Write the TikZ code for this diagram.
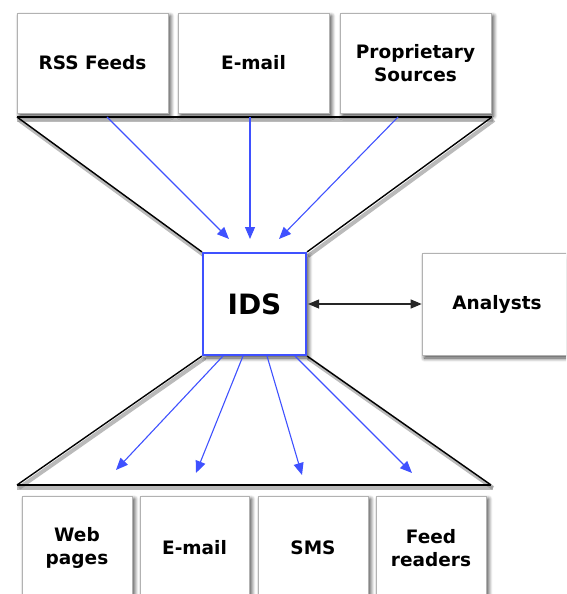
\documentclass[tikz,border=0pt]{standalone}
\usepackage{fontspec}
\setmainfont{DejaVu Sans}
\usetikzlibrary{shadows.blur,arrows.meta}
\definecolor{idsblue}{HTML}{3F51FF}
\tikzset{
  box/.style={draw=gray!60, line width=0.6pt, fill=white, align=center,
    font=\fontsize{18.5}{22.5}\selectfont\bfseries,
    blur shadow={shadow xshift=2.5pt, shadow yshift=-3pt, shadow blur steps=8, shadow blur radius=4pt, shadow opacity=75},
    inner sep=0pt},
  funnel/.style={line width=1.4pt, black},
  funnelshadow/.style={line width=4pt, black!45, opacity=0.6},
  bluearrow/.style={draw=idsblue, line width=1.1pt, -{Triangle[length=12pt,width=10pt]}},
  twoarrow/.style={draw=black!85, line width=1.1pt, {Triangle[length=11pt,width=9pt]}-{Triangle[length=11pt,width=9pt]}}
}
\begin{document}
\begin{tikzpicture}[x=1pt,y=-1pt]
\useasboundingbox (0,0) rectangle (566,594);
\clip (0,0) rectangle (566,594);
% funnel shadow lines
\draw[funnelshadow] (17,120) -- (493,120);
\draw[funnelshadow] (19,120) -- (205,256);
\draw[funnelshadow] (494,120) -- (308,256);
\draw[funnelshadow] (205,358) -- (19,488);
\draw[funnelshadow] (308,358) -- (493,488);
\draw[funnelshadow] (17,488) -- (493,488);
% top boxes
\node[box, minimum width=151, minimum height=100] (rss) at (92.5,63) {RSS Feeds};
\node[box, minimum width=151, minimum height=100] (mail) at (253.5,63) {E-mail};
\node[box, minimum width=151, minimum height=100] (prop) at (415.5,63) {Proprietary\\Sources};
% IDS
\node[box, draw=idsblue, line width=2.2pt, minimum width=103, minimum height=102,
  font=\fontsize{28}{32}\selectfont\bfseries] (ids) at (254.5,304) {IDS};
% Analysts
\node[box, minimum width=150, minimum height=102] (an) at (497,304) {Analysts};
% bottom boxes
\node[box, minimum width=110, minimum height=104] (web) at (77,548) {Web\\pages};
\node[box, minimum width=109, minimum height=104] (mail2) at (194.5,548) {E-mail};
\node[box, minimum width=110, minimum height=104] (sms) at (313,548) {SMS};
\node[box, minimum width=110, minimum height=104] (feed) at (431,548) {Feed\\readers};
% funnel lines
\coordinate (tl) at (17,117);
\coordinate (tr) at (492,117);
\coordinate (bl) at (17,485);
\coordinate (br) at (491,485);
\draw[funnel] (tl) -- (tr);
\draw[funnel] (tl) -- (ids.north west);
\draw[funnel] (tr) -- (ids.north east);
\draw[funnel] (ids.south west) -- (bl);
\draw[funnel] (ids.south east) -- (br);
\draw[funnel] (bl) -- (br);
% top arrows
\coordinate (s1) at (107,117);
\coordinate (s2) at (250,117);
\coordinate (s3) at (398,117);
\coordinate (e1) at (229,239);
\coordinate (e2) at (250,239);
\coordinate (e3) at (279,239);
\draw[bluearrow] (s1) -- (e1);
\draw[bluearrow] (s2) -- (e2);
\draw[bluearrow] (s3) -- (e3);
% bottom arrows
\coordinate (b1) at (223,356);
\coordinate (b2) at (243,356);
\coordinate (b3) at (267,356);
\coordinate (b4) at (295,356);
\coordinate (f1) at (116,470);
\coordinate (f2) at (196,473);
\coordinate (f3) at (302,475);
\coordinate (f4) at (412,473);
\draw[bluearrow] (b1) -- (f1);
\draw[bluearrow] (b2) -- (f2);
\draw[bluearrow] (b3) -- (f3);
\draw[bluearrow] (b4) -- (f4);
% IDS <-> Analysts
\draw[twoarrow] (ids.east) ++(1,0) coordinate (ie) -- (an.west);
\end{tikzpicture}
\end{document}
